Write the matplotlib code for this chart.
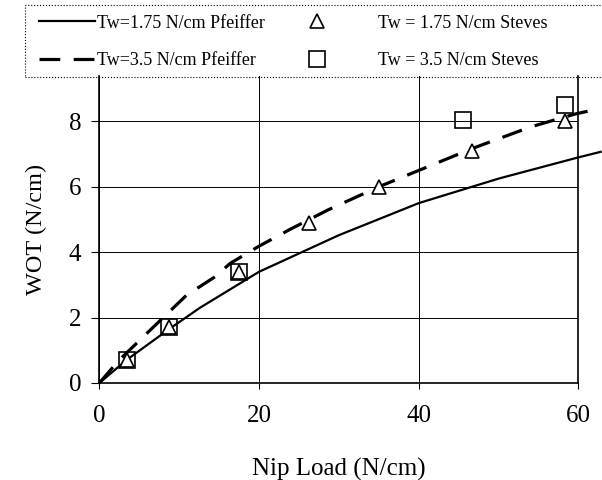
import matplotlib
matplotlib.use("Agg")
import matplotlib.pyplot as plt
from matplotlib.patches import Rectangle

plt.rcParams['font.family'] = ['Liberation Serif', 'DejaVu Serif']

# Pfeiffer model curves
pf175_x = [0, 3.5, 8.75, 12.6, 20, 30, 40, 50, 60, 62.8]
pf175_y = [0, 0.72, 1.65, 2.3, 3.4, 4.52, 5.5, 6.25, 6.9, 7.07]
pf35_x = [0, 2.4, 6.3, 10.9, 14.5, 16.4, 19.9, 23.9, 28.7, 35, 40, 46.7, 54, 59.5, 61.5]
pf35_y = [0, 0.68, 1.6, 2.68, 3.25, 3.66, 4.17, 4.7, 5.3, 6.0, 6.5, 7.17, 7.83, 8.22, 8.33]

# Steves measurements
st175_x = [3.5, 8.75, 17.5, 26.25, 35, 46.7, 58.3]
st175_y = [0.7, 1.7, 3.4, 4.9, 6.0, 7.1, 8.0]
st35_x = [3.5, 8.75, 17.5, 45.5, 58.3]
st35_y = [0.7, 1.7, 3.4, 8.05, 8.5]

lab_pf175 = "Tw=1.75 N/cm Pfeiffer"
lab_pf35 = "Tw=3.5 N/cm Pfeiffer"
lab_st175 = "Tw = 1.75 N/cm Steves"
lab_st35 = "Tw = 3.5 N/cm Steves"

fig = plt.figure(figsize=(6.02, 4.8), dpi=100)
ax = fig.add_axes([0.165, 0.2021, 0.7956, 0.6396])

l1, = ax.plot(pf175_x, pf175_y, color='black', lw=1.6, clip_on=False, zorder=3)
l2, = ax.plot(pf35_x, pf35_y, color='black', lw=2.3, dashes=(6.5, 4.2),
              clip_on=False, zorder=3)
m1, = ax.plot(st175_x, st175_y, ls='none', marker='^', ms=10.5, mfc='white',
              mec='black', mew=1.2, clip_on=False, zorder=4)
m2, = ax.plot(st35_x, st35_y, ls='none', marker='s', ms=11, mfc='none',
              mec='black', mew=1.2, clip_on=False, zorder=4)

ax.set_xlim(0, 60)
ax.set_ylim(0, 9.39)
ax.set_xticks([0, 20, 40, 60])
ax.set_yticks([0, 2, 4, 6, 8])
ax.grid(True, color='black', lw=0.7)
ax.set_axisbelow(True)
ax.spines['top'].set_visible(False)
for s in ['left', 'bottom', 'right']:
    ax.spines[s].set_linewidth(1.2)
ax.tick_params(axis='y', direction='out', length=6, width=0.8, labelsize=18, pad=7)
ax.tick_params(axis='x', direction='out', length=4, width=0.8, labelsize=18, pad=12)

ax.set_xlabel("Nip Load (N/cm)", fontsize=18, labelpad=22)
ax.set_ylabel("WOT (N/cm)", fontsize=17.5, labelpad=16)

# legend box
fig.patches.append(Rectangle((0.0415, 0.8396), 1.0, 0.15, transform=fig.transFigure,
                             fill=False, ec='black', lw=0.8, ls=':'))
leg_kw = dict(loc='upper left', frameon=False, fontsize=13, labelspacing=1.15,
              borderaxespad=0, borderpad=0.2)
leg1 = fig.legend([l1, l2], [lab_pf175, lab_pf35], bbox_to_anchor=(0.058, 0.977),
                  handlelength=3.15, handletextpad=0.1, **leg_kw)
leg2 = fig.legend([m1, m2], [lab_st175, lab_st35], bbox_to_anchor=(0.505, 0.977),
                  handlelength=1.0, handletextpad=2.9, numpoints=1, **leg_kw)

fig.savefig("out.png", dpi=100)
